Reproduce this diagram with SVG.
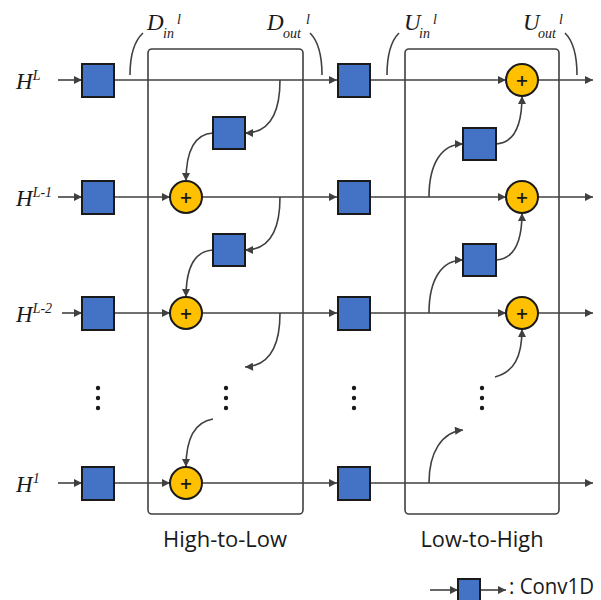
<svg xmlns="http://www.w3.org/2000/svg" width="601" height="600" viewBox="0 0 601 600">
<style>
.ln{fill:none;stroke:#404040;stroke-width:1.6}
.bx{fill:none;stroke:#404040;stroke-width:1.6}
.sq{fill:#4472C4;stroke:#1a1a1a;stroke-width:2}
.ci{fill:#FFC000;stroke:#1a1a1a;stroke-width:2}
.pl{font-family:"DejaVu Sans",sans-serif;font-size:16px;font-weight:bold;fill:#1a1a1a;text-anchor:middle}
.it{font-family:"Liberation Serif",serif;font-style:italic;fill:#1a1a1a}
.lb{font-family:"Open Sans",sans-serif;font-size:21px;fill:#1a1a1a}
.dot{fill:#1a1a1a}
</style>
<defs>
<marker id="ah2" viewBox="0 0 10 10" refX="10" refY="5" markerWidth="9" markerHeight="8" markerUnits="userSpaceOnUse" orient="auto">
<path d="M0,0 L10,5 L0,10 z" fill="#404040"/>
</marker>
</defs>
<g id="boxes">
<rect x="148" y="49" width="155" height="465" rx="4" class="bx"/>
<rect x="405" y="49" width="154" height="465" rx="4" class="bx"/>
</g>
<g id="connectors">
<line x1="58" y1="80" x2="82" y2="80" class="ln" marker-end="url(#ah2)"/>
<line x1="114" y1="80" x2="337" y2="80" class="ln" marker-end="url(#ah2)"/>
<line x1="370" y1="80" x2="506" y2="80" class="ln" marker-end="url(#ah2)"/>
<line x1="538" y1="80" x2="593" y2="80" class="ln" marker-end="url(#ah2)"/>
<line x1="58" y1="197" x2="82" y2="197" class="ln" marker-end="url(#ah2)"/>
<line x1="114" y1="197" x2="170" y2="197" class="ln" marker-end="url(#ah2)"/>
<line x1="202" y1="197" x2="337" y2="197" class="ln" marker-end="url(#ah2)"/>
<line x1="370" y1="197" x2="506" y2="197" class="ln" marker-end="url(#ah2)"/>
<line x1="538" y1="197" x2="593" y2="197" class="ln" marker-end="url(#ah2)"/>
<line x1="62" y1="313" x2="82" y2="313" class="ln" marker-end="url(#ah2)"/>
<line x1="114" y1="313" x2="170" y2="313" class="ln" marker-end="url(#ah2)"/>
<line x1="202" y1="313" x2="337" y2="313" class="ln" marker-end="url(#ah2)"/>
<line x1="370" y1="313" x2="506" y2="313" class="ln" marker-end="url(#ah2)"/>
<line x1="538" y1="313" x2="593" y2="313" class="ln" marker-end="url(#ah2)"/>
<line x1="58" y1="483" x2="82" y2="483" class="ln" marker-end="url(#ah2)"/>
<line x1="114" y1="483" x2="170" y2="483" class="ln" marker-end="url(#ah2)"/>
<line x1="202" y1="483" x2="337" y2="483" class="ln" marker-end="url(#ah2)"/>
<line x1="370" y1="483" x2="593" y2="483" class="ln" marker-end="url(#ah2)"/>
<path d="M280,80 C280,115 268,133 245,133" class="ln" marker-end="url(#ah2)"/>
<path d="M213,133 C195,134 186,150 186,181" class="ln" marker-end="url(#ah2)"/>
<path d="M280,197 C280,232 268,250 245,250" class="ln" marker-end="url(#ah2)"/>
<path d="M213,250 C195,251 186,267 186,297" class="ln" marker-end="url(#ah2)"/>
<path d="M280,313 C280,348 268,366 245,367" class="ln" marker-end="url(#ah2)"/>
<path d="M213,419 C195,422 186,438 186,467" class="ln" marker-end="url(#ah2)"/>
<path d="M429,197 C429,163 442,144 463,144" class="ln" marker-end="url(#ah2)"/>
<path d="M496,144 C514,143 522,125 522,96" class="ln" marker-end="url(#ah2)"/>
<path d="M429,313 C429,279 442,260 463,260" class="ln" marker-end="url(#ah2)"/>
<path d="M496,260 C514,259 522,241 522,213" class="ln" marker-end="url(#ah2)"/>
<path d="M495,377 C514,372 522,357 522,329" class="ln" marker-end="url(#ah2)"/>
<path d="M429,483 C429,452 442,432 463,430" class="ln" marker-end="url(#ah2)"/>
<path d="M130,75 Q130,45 143,33" class="ln" stroke-width="1.3"/>
<path d="M310,33 Q322,45 322,75" class="ln" stroke-width="1.3"/>
<path d="M387,75 Q387,45 399,33" class="ln" stroke-width="1.3"/>
<path d="M565,33 Q577,45 577,75" class="ln" stroke-width="1.3"/>
<line x1="430" y1="590" x2="458" y2="590" class="ln" marker-end="url(#ah2)"/>
<line x1="480" y1="590" x2="506" y2="590" class="ln" marker-end="url(#ah2)"/>
</g>
<g id="input-convs">
<rect x="82" y="64" width="32" height="33" class="sq"/>
<rect x="82" y="181" width="32" height="33" class="sq"/>
<rect x="82" y="297" width="32" height="33" class="sq"/>
<rect x="82" y="467" width="32" height="33" class="sq"/>
</g>
<g id="mid-convs">
<rect x="338" y="64" width="32" height="33" class="sq"/>
<rect x="338" y="181" width="32" height="33" class="sq"/>
<rect x="338" y="297" width="32" height="33" class="sq"/>
<rect x="338" y="467" width="32" height="33" class="sq"/>
</g>
<g id="htl-convs">
<rect x="213" y="117" width="32" height="32" class="sq"/>
<rect x="213" y="234" width="32" height="32" class="sq"/>
</g>
<g id="lth-convs">
<rect x="463" y="128" width="33" height="32" class="sq"/>
<rect x="463" y="244" width="33" height="32" class="sq"/>
</g>
<g id="htl-adds">
<circle cx="186" cy="197" r="16" class="ci"/><text x="186" y="203" class="pl">+</text>
<circle cx="186" cy="313" r="16" class="ci"/><text x="186" y="319" class="pl">+</text>
<circle cx="186" cy="483" r="16" class="ci"/><text x="186" y="489" class="pl">+</text>
</g>
<g id="lth-adds">
<circle cx="522" cy="80" r="16" class="ci"/><text x="522" y="86" class="pl">+</text>
<circle cx="522" cy="197" r="16" class="ci"/><text x="522" y="203" class="pl">+</text>
<circle cx="522" cy="313" r="16" class="ci"/><text x="522" y="319" class="pl">+</text>
</g>
<g id="dots">
<circle cx="98" cy="388" r="2.2" class="dot"/><circle cx="98" cy="398" r="2.2" class="dot"/><circle cx="98" cy="408" r="2.2" class="dot"/>
<circle cx="226" cy="388" r="2.2" class="dot"/><circle cx="226" cy="398" r="2.2" class="dot"/><circle cx="226" cy="408" r="2.2" class="dot"/>
<circle cx="354" cy="388" r="2.2" class="dot"/><circle cx="354" cy="398" r="2.2" class="dot"/><circle cx="354" cy="408" r="2.2" class="dot"/>
<circle cx="482" cy="388" r="2.2" class="dot"/><circle cx="482" cy="398" r="2.2" class="dot"/><circle cx="482" cy="408" r="2.2" class="dot"/>
</g>
<g id="level-labels">
<text x="16" y="89" class="it" font-size="23">H<tspan dy="-9" font-size="14">L</tspan></text>
<text x="16" y="206" class="it" font-size="23">H<tspan dy="-9" font-size="14">L-1</tspan></text>
<text x="16" y="322" class="it" font-size="23">H<tspan dy="-9" font-size="14">L-2</tspan></text>
<text x="16" y="492" class="it" font-size="23">H<tspan dy="-9" font-size="14">1</tspan></text>
</g>
<g id="stage-labels">
<text x="147" y="30" class="it" font-size="23">D</text><text x="163" y="38" class="it" font-size="14">in</text><text x="177" y="24" class="it" font-size="14">l</text>
<text x="267" y="30" class="it" font-size="23">D</text><text x="283" y="38" class="it" font-size="14">out</text><text x="306" y="24" class="it" font-size="14">l</text>
<text x="404" y="30" class="it" font-size="23">U</text><text x="419" y="38" class="it" font-size="14">in</text><text x="433" y="24" class="it" font-size="14">l</text>
<text x="523" y="30" class="it" font-size="23">U</text><text x="538" y="38" class="it" font-size="14">out</text><text x="559" y="24" class="it" font-size="14">l</text>
</g>
<g id="titles">
<text x="225" y="547" class="lb" text-anchor="middle" textLength="124" lengthAdjust="spacingAndGlyphs">High-to-Low</text>
<text x="482" y="547" class="lb" text-anchor="middle" textLength="123" lengthAdjust="spacingAndGlyphs">Low-to-High</text>
</g>
<g id="legend">
<rect x="458" y="579" width="22" height="22" class="sq"/>
<text x="509" y="594" class="lb" font-size="19" textLength="85" lengthAdjust="spacingAndGlyphs">: Conv1D</text>
</g>
</svg>
